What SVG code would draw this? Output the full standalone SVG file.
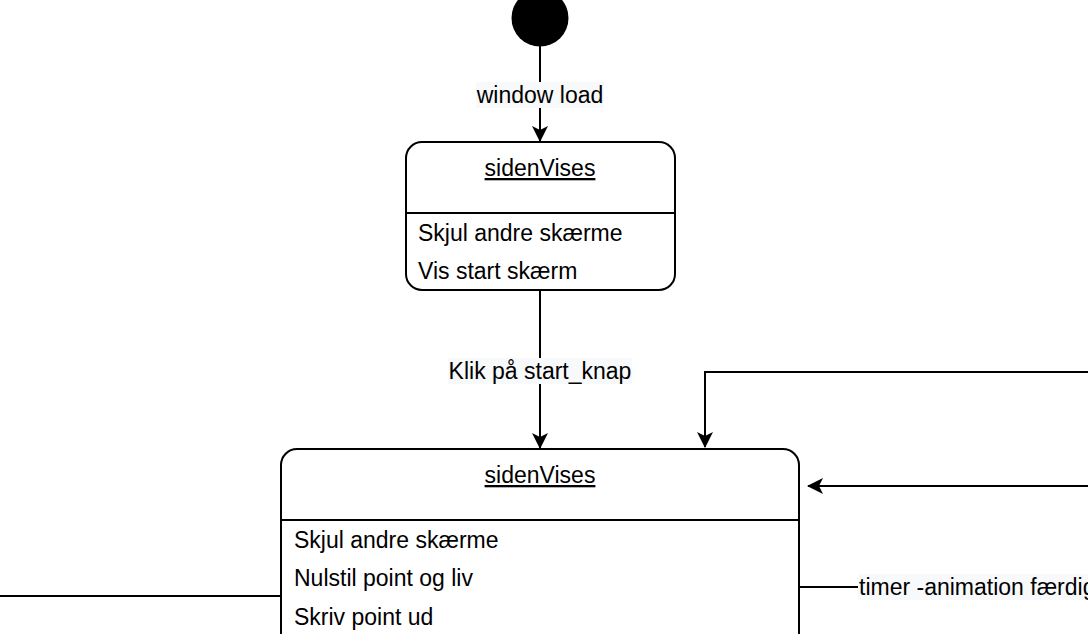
<svg xmlns="http://www.w3.org/2000/svg" width="1088" height="634" viewBox="0 0 1088 634">
<style>
text{font-family:"Liberation Sans",Arial,sans-serif;font-size:23px;fill:#000}
.t{text-anchor:middle;text-decoration:underline}
.box{fill:#fff;stroke:#000;stroke-width:2}
.ln{fill:none;stroke:#000;stroke-width:2}
.lb{fill:#f8f9fa}
</style>
<defs>
<marker id="a" viewBox="0 0 16 16" refX="15" refY="8" markerWidth="16" markerHeight="16" markerUnits="userSpaceOnUse" orient="auto">
<path d="M0,0 L16,8 L0,16 L4,8 Z" fill="#000"/>
</marker>
</defs>
<rect width="1088" height="634" fill="#fff"/>
<g id="connectors">
<path class="ln" d="M540,46 V141" marker-end="url(#a)"/>
<rect class="lb" x="476" y="82" width="128" height="26"/>
<text x="540" y="103" text-anchor="middle">window load</text>
<path class="ln" d="M540,290 V448" marker-end="url(#a)"/>
<rect class="lb" x="448" y="358" width="184" height="26"/>
<text x="540" y="379" text-anchor="middle">Klik på start_knap</text>
<path class="ln" d="M1088,372 H705 V447" marker-end="url(#a)"/>
<path class="ln" d="M1088,486 H808" marker-end="url(#a)"/>
<path class="ln" d="M799,587 H860"/>
<rect class="lb" x="858" y="574" width="240" height="26"/>
<text x="859" y="595">timer -animation færdig</text>
<path class="ln" d="M0,596 H281"/>
</g>
<g id="start">
<circle cx="540" cy="18" r="28.5" fill="#000"/>
</g>
<g id="node1">
<rect class="box" x="406" y="142" width="269" height="148" rx="16"/>
<path class="ln" d="M406,213 H675"/>
<text class="t" x="540" y="176">sidenVises</text>
<text x="418" y="241">Skjul andre skærme</text>
<text x="418" y="279">Vis start skærm</text>
</g>
<g id="node2">
<rect class="box" x="281" y="449" width="518" height="220" rx="16"/>
<path class="ln" d="M281,520 H799"/>
<text class="t" x="540" y="483">sidenVises</text>
<text x="294" y="548">Skjul andre skærme</text>
<text x="294" y="586">Nulstil point og liv</text>
<text x="294" y="625">Skriv point ud</text>
</g>
</svg>
